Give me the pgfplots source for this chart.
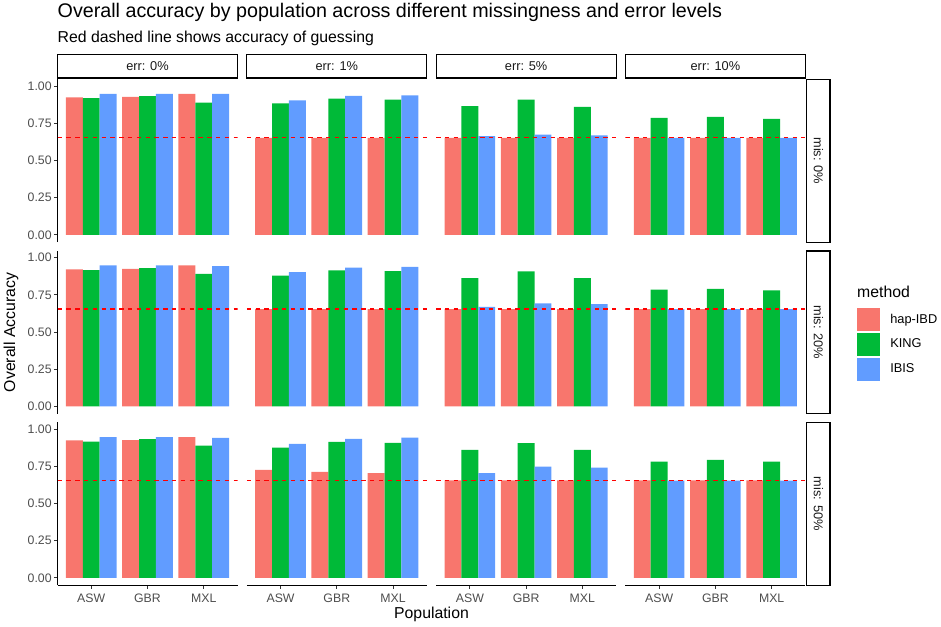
\documentclass[border=0pt]{standalone}
\usepackage{pgfplots}
\usepackage{pgfplotstable}
\pgfplotsset{compat=1.18}
\usepackage{fontspec}
\setmainfont{Liberation Sans}
\definecolor{cHap}{HTML}{F8766D}
\definecolor{cKing}{HTML}{00BA38}
\definecolor{cIbis}{HTML}{619CFF}
\definecolor{gthirty}{HTML}{4D4D4D}
\definecolor{gtwenty}{HTML}{333333}
\definecolor{gten}{HTML}{1A1A1A}

% mis: 0%
\pgfplotstableread{
x hap king ibis
1 0.924 0.919 0.948
2 0.928 0.933 0.948
3 0.948 0.890 0.948
}\pAA
\pgfplotstableread{
x hap king ibis
1 0.653 0.884 0.904
2 0.653 0.917 0.935
3 0.653 0.910 0.939
}\pAB
\pgfplotstableread{
x hap king ibis
1 0.653 0.866 0.664
2 0.653 0.910 0.675
3 0.653 0.861 0.670
}\pAC
\pgfplotstableread{
x hap king ibis
1 0.653 0.787 0.653
2 0.653 0.794 0.653
3 0.653 0.780 0.653
}\pAD
% mis: 20%
\pgfplotstableread{
x hap king ibis
1 0.921 0.917 0.948
2 0.925 0.930 0.948
3 0.948 0.892 0.944
}\pBA
\pgfplotstableread{
x hap king ibis
1 0.654 0.879 0.903
2 0.654 0.914 0.933
3 0.654 0.910 0.939
}\pBB
\pgfplotstableread{
x hap king ibis
1 0.654 0.863 0.670
2 0.654 0.908 0.693
3 0.654 0.863 0.688
}\pBC
\pgfplotstableread{
x hap king ibis
1 0.654 0.785 0.654
2 0.654 0.791 0.654
3 0.654 0.780 0.654
}\pBD
% mis: 50%
\pgfplotstableread{
x hap king ibis
1 0.925 0.917 0.946
2 0.927 0.933 0.946
3 0.946 0.890 0.942
}\pCA
\pgfplotstableread{
x hap king ibis
1 0.726 0.876 0.901
2 0.713 0.915 0.935
3 0.704 0.908 0.944
}\pCB
\pgfplotstableread{
x hap king ibis
1 0.656 0.861 0.704
2 0.656 0.906 0.749
3 0.656 0.861 0.742
}\pCC
\pgfplotstableread{
x hap king ibis
1 0.656 0.782 0.655
2 0.656 0.794 0.655
3 0.656 0.782 0.655
}\pCD

\pgfplotsset{
  panel/.style={
    scale only axis, width=180pt, height=162.7pt,
    anchor=south west,
    xmin=0.4, xmax=3.6, ymin=-0.049, ymax=1.045,
    axis line style={-, black, line width=1pt},
    tick align=outside, major tick length=3.7pt,
    tick style={gtwenty, line width=0.9pt},
    xtick={1,2,3},
    xticklabels={ASW,GBR,MXL},
    xticklabel style={font=\fontsize{12.3}{14}\selectfont, text=gthirty, inner sep=2pt, yshift=-2.5pt},
    ytick={0,0.25,0.5,0.75,1},
    yticklabels={0.00,0.25,0.50,0.75,1.00},
    yticklabel style={font=\fontsize{12.3}{14}\selectfont, text=gthirty, inner sep=2pt},
  },
  inner/.style={hide x axis, hide y axis},
  leftcol/.style={axis y line*=left, hide x axis},
  bottomrow/.style={axis x line*=bottom, hide y axis},
  corner/.style={axis x line*=bottom, axis y line*=left},
}

\newcommand{\panel}[4]{%
\begin{axis}[panel, at={(#1pt,#2pt)}, #4]
\addplot[ybar, bar width=16.875pt, bar shift=-16.875pt, fill=cHap, draw=none,
  legend image code/.code={\fill[cHap] (0pt,-11.5pt) rectangle (23pt,11.5pt); \path (33pt,0pt);}]
  table[x=x, y=hap] {#3};
\addplot[ybar, bar width=16.875pt, bar shift=0pt, fill=cKing, draw=none,
  legend image code/.code={\fill[cKing] (0pt,-11.5pt) rectangle (23pt,11.5pt); \path (33pt,0pt);}]
  table[x=x, y=king] {#3};
\addplot[ybar, bar width=16.875pt, bar shift=16.875pt, fill=cIbis, draw=none,
  legend image code/.code={\fill[cIbis] (0pt,-11.5pt) rectangle (23pt,11.5pt); \path (33pt,0pt);}]
  table[x=x, y=ibis] {#3};
\addplot[red, line width=1.3pt, dash pattern=on 4.4pt off 4.4pt, forget plot]
  coordinates {(0.4,0.655) (3.6,0.655)};
\end{axis}}

\begin{document}
\begin{tikzpicture}
\useasboundingbox (0pt,0pt) rectangle (941pt,626pt);

% row A (mis 0%)
\panel{57.5}{383.8}{\pAA}{leftcol}
\panel{246.8}{383.8}{\pAB}{inner}
\panel{436.1}{383.8}{\pAC}{inner}
\panel{625.4}{383.8}{\pAD}{inner}
% row B (mis 20%)
\panel{57.5}{212.3}{\pBA}{leftcol}
\panel{246.8}{212.3}{\pBB}{inner}
\panel{436.1}{212.3}{\pBC}{inner}
\panel{625.4}{212.3}{\pBD}{inner, legend entries={hap-IBD,KING,IBIS},
  legend cell align=left,
  legend style={at={(axis description cs:1.2883,0.6515)}, anchor=north west,
    draw=none, fill=none, inner sep=0pt, outer sep=0pt, row sep=2pt,
    font=\fontsize{12.8}{15}\selectfont,
    nodes={inner sep=0pt, outer sep=0pt}}}
% row C (mis 50%)
\panel{57.5}{40.8}{\pCA}{corner}
\panel{246.8}{40.8}{\pCB}{bottomrow}
\panel{436.1}{40.8}{\pCC}{bottomrow}
\panel{625.4}{40.8}{\pCD}{bottomrow}

% top strips
\foreach \xx/\lab in {57.5/0, 246.8/1, 436.1/5, 625.4/10}{
  \draw[line width=1.1pt, fill=white] (\xx pt,548pt) rectangle ({\xx pt+180pt},571.3pt);
  \node[font=\fontsize{12.8}{15}\selectfont, text=gten] at ({\xx pt+90pt},559.65pt) {err: \lab\%};
}
% right strips
\foreach \yy/\lab in {383.8/0, 212.3/20, 40.8/50}{
  \draw[line width=1.1pt, fill=white] (806.7pt,\yy pt) rectangle (830pt,{\yy pt+162.7pt});
  \node[font=\fontsize{12.8}{15}\selectfont, text=gten, rotate=-90] at (818.35pt,{\yy pt+81.35pt}) {mis: \lab\%};
}

% titles
\node[anchor=base west, font=\fontsize{19.7}{23}\selectfont, inner sep=0pt] at (57.5pt,608.7pt)
  {Overall accuracy by population across different missingness and error levels};
\node[anchor=base west, font=\fontsize{15.8}{18}\selectfont, inner sep=0pt] at (57.5pt,583.7pt)
  {Red dashed line shows accuracy of guessing};
% axis titles
\node[rotate=90, font=\fontsize{15.8}{18}\selectfont] at (11pt,293.6pt) {Overall Accuracy};
\node[font=\fontsize{15.8}{18}\selectfont] at (431.5pt,12pt) {Population};
% legend title
\node[anchor=base west, font=\fontsize{15.8}{18}\selectfont, inner sep=0pt] at (857pt,328.7pt) {method};
\end{tikzpicture}
\end{document}
